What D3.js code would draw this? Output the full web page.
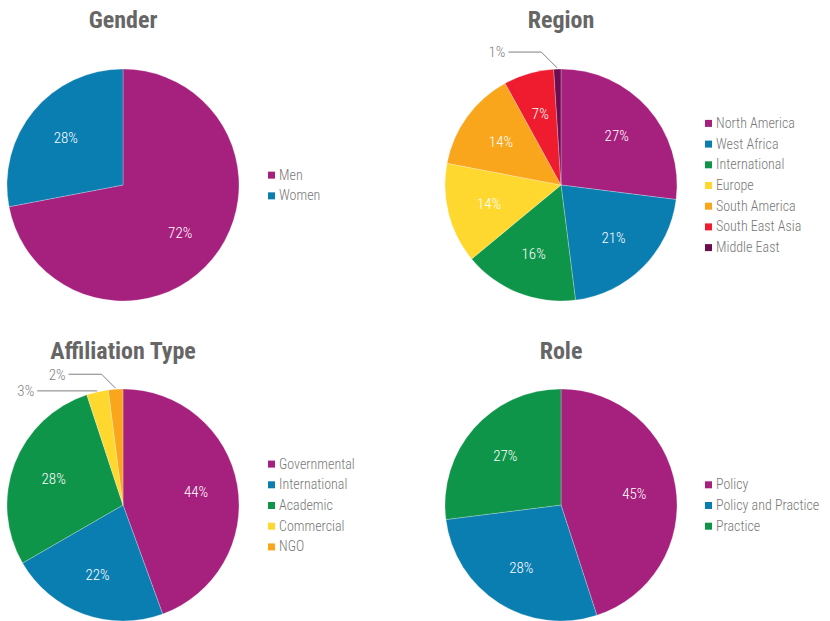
<!DOCTYPE html>
<html>
<head>
<meta charset="utf-8">
<title>Participants</title>
<style>
body { margin: 0; background: #fff; }
svg { display: block; }
text { font-family: "Roboto Condensed", "Liberation Sans Narrow", "DejaVu Sans Condensed", sans-serif; }
.title { font-size: 24px; font-weight: bold; fill: #666; }
.legend text { font-size: 14px; font-weight: 300; fill: #777; }
.inlabel { font-size: 15px; font-weight: 300; fill: #fff; }
.outlabel { font-size: 15px; font-weight: 300; fill: #808080; }
path.slice { stroke: #fff; stroke-width: 0.5; stroke-opacity: 0.5; }
path.leader { fill: none; stroke: #808080; stroke-width: 1; }
</style>
</head>
<body>
<script src="https://cdn.jsdelivr.net/npm/d3@7"></script>
<script>
// data
var genderLabels = ["Men", "Women"];
var genderValues = [72, 28];

var regionLabels = ["North America", "West Africa", "International", "Europe", "South America", "South East Asia", "Middle East"];
var regionValues = [27, 21, 16, 14, 14, 7, 1];

var affiliationLabels = ["Governmental", "International", "Academic", "Commercial", "NGO"];
var affiliationValues = [44, 22, 28, 3, 2];

var roleLabels = ["Policy", "Policy and Practice", "Practice"];
var roleValues = [45, 28, 27];

var palette = ["#a6207e", "#0a7db1", "#0f9549", "#fed82f", "#f9a61c", "#ee1c2e", "#6d0c4f"];

var width = 830, height = 621, radius = 116;

// layout of the four panels
var charts = [
  {title: "Gender", labels: genderLabels, values: genderValues, cx: 123, cy: 185, titleY: 28, legendX: 268,
   outside: {}},
  {title: "Region", labels: regionLabels, values: regionValues, cx: 561, cy: 185, titleY: 28, legendX: 705,
   outside: {6: {dy: -16, len: 33}}},
  {title: "Affiliation Type", labels: affiliationLabels, values: affiliationValues, cx: 123, cy: 505, titleY: 359, legendX: 268,
   outside: {3: {dy: 0, len: 60}, 4: {dy: -14, len: 33}}},
  {title: "Role", labels: roleLabels, values: roleValues, cx: 561, cy: 505, titleY: 359, legendX: 705,
   outside: {}}
];

var svg = d3.select("body").append("svg")
    .attr("width", width)
    .attr("height", height);

var pie = d3.pie().sort(null).value(function(d) { return d.value; });
var arc = d3.arc().innerRadius(0).outerRadius(radius);
var labelArc = d3.arc().innerRadius(radius * 0.64).outerRadius(radius * 0.64);
var color = d3.scaleOrdinal().range(palette);

charts.forEach(function(c) {
  var rows = c.labels.map(function(l, i) { return {label: l, value: c.values[i]}; });
  color.domain(d3.range(rows.length));

  svg.append("text")
      .attr("class", "title")
      .attr("x", c.cx)
      .attr("y", c.titleY)
      .attr("text-anchor", "middle")
      .text(c.title);

  var g = svg.append("g")
      .attr("transform", "translate(" + c.cx + "," + c.cy + ")");

  var arcs = pie(rows);

  g.selectAll("path.slice")
      .data(arcs)
      .enter().append("path")
      .attr("class", "slice")
      .attr("fill", function(d, i) { return color(i); })
      .attr("d", arc);

  // labels inside the bigger slices
  g.selectAll("text.inlabel")
      .data(arcs.filter(function(d, i) { return !c.outside[i]; }))
      .enter().append("text")
      .attr("class", "inlabel")
      .attr("transform", function(d) { return "translate(" + labelArc.centroid(d) + ")"; })
      .attr("text-anchor", "middle")
      .attr("dy", "0.35em")
      .text(function(d) { return d.data.value + "%"; });

  // leader lines for the thin ones
  arcs.forEach(function(d, i) {
    var o = c.outside[i];
    if (!o) return;
    var a = (d.startAngle + d.endAngle) / 2;
    var px = (radius + 1) * Math.sin(a), py = -(radius + 1) * Math.cos(a);
    var ex = px + o.dy, ey = py + o.dy;
    var lx = ex - o.len;
    g.append("path")
        .attr("class", "leader")
        .attr("d", d3.line()([[px, py], [ex, ey], [lx, ey]]));
    g.append("text")
        .attr("class", "outlabel")
        .attr("x", lx - 3)
        .attr("y", ey)
        .attr("dy", "0.35em")
        .attr("text-anchor", "end")
        .text(d.data.value + "%");
  });

  // legend centred on the pie
  var step = 20.7;
  var top = c.cy - (rows.length - 1) * step / 2;
  var lg = svg.append("g").attr("class", "legend");
  var item = lg.selectAll("g")
      .data(rows)
      .enter().append("g")
      .attr("transform", function(d, i) { return "translate(" + c.legendX + "," + (top + i * step) + ")"; });
  item.append("rect")
      .attr("x", 0)
      .attr("y", -3)
      .attr("width", 7)
      .attr("height", 7)
      .attr("fill", function(d, i) { return color(i); });
  item.append("text")
      .attr("x", 11)
      .attr("y", 0)
      .attr("dy", "0.35em")
      .text(function(d) { return d.label; });
});
</script>
</body>
</html>
